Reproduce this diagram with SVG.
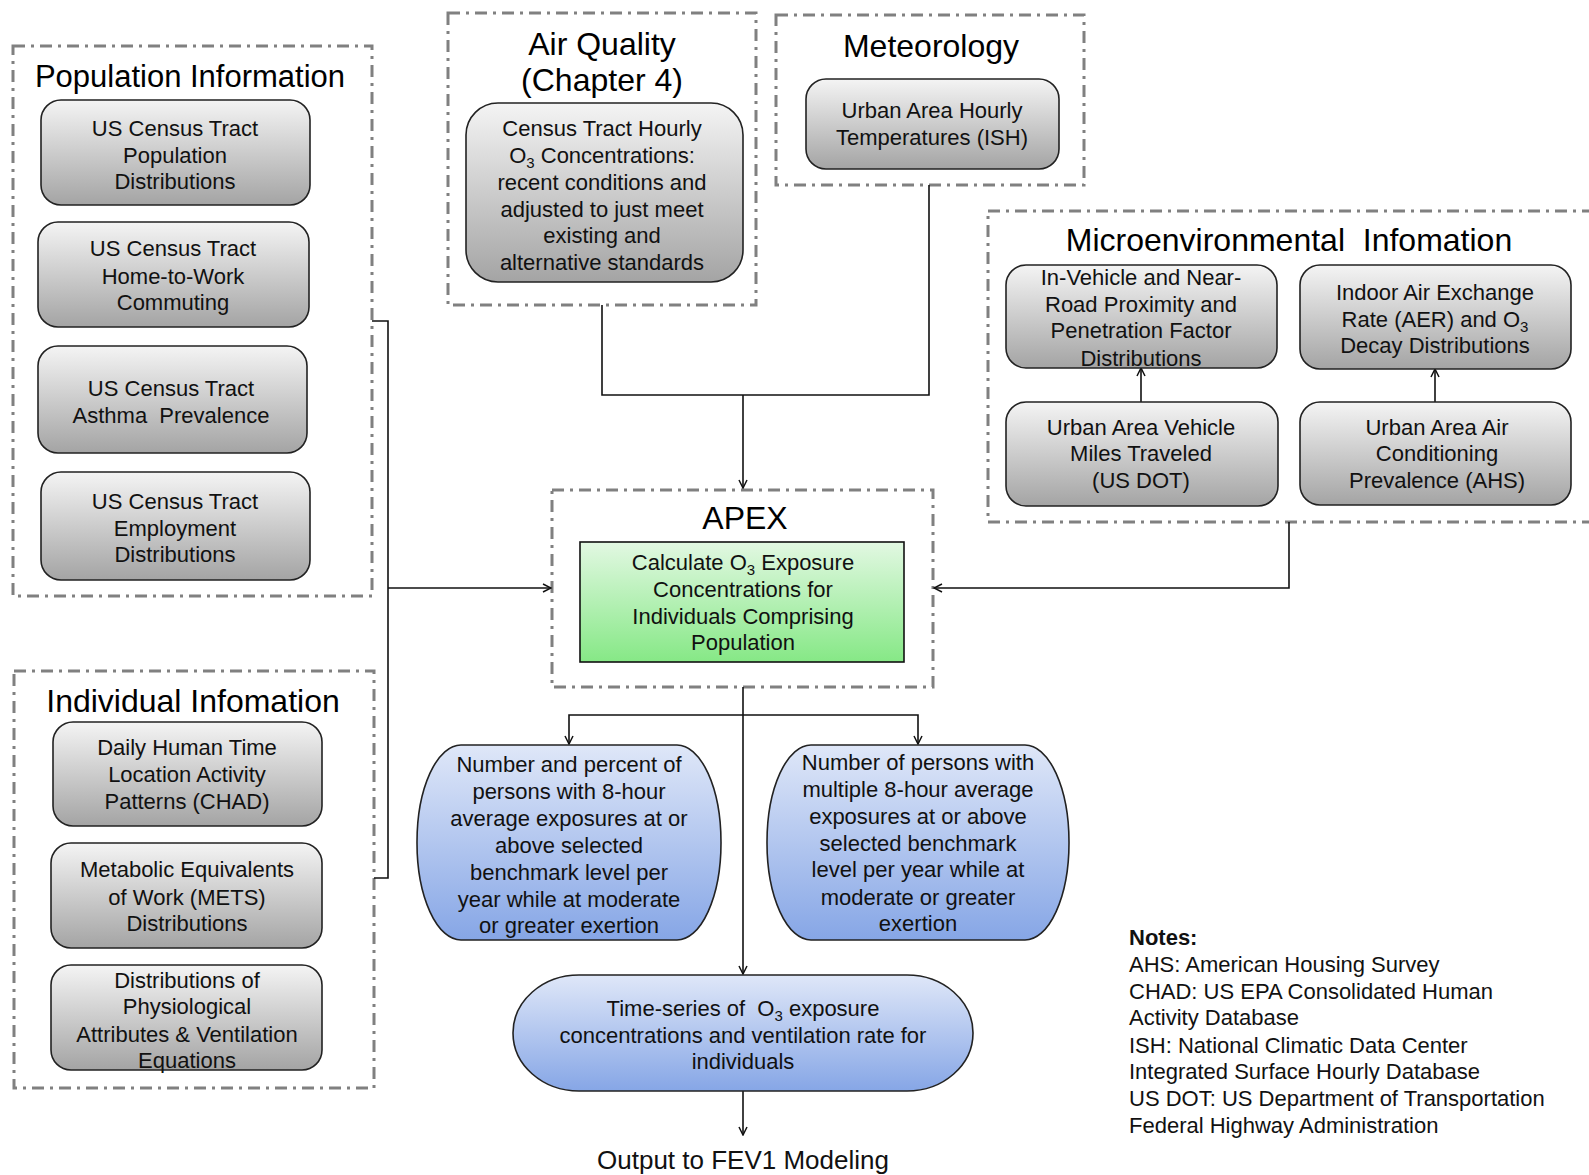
<svg xmlns="http://www.w3.org/2000/svg" width="1589" height="1175" viewBox="0 0 1589 1175">
  <defs>
    <linearGradient id="gGrey" x1="0" y1="0" x2="0" y2="1">
      <stop offset="0" stop-color="#f4f4f4"/>
      <stop offset="1" stop-color="#a4a4a4"/>
    </linearGradient>
    <linearGradient id="gGreen" x1="0" y1="0" x2="0" y2="1">
      <stop offset="0" stop-color="#e2f8e2"/>
      <stop offset="1" stop-color="#86e886"/>
    </linearGradient>
    <linearGradient id="gBlue" x1="0" y1="0" x2="0" y2="1">
      <stop offset="0" stop-color="#dfe7f8"/>
      <stop offset="1" stop-color="#86a6e6"/>
    </linearGradient>
    <marker id="arr" viewBox="0 0 10 10" refX="9" refY="5" markerWidth="10" markerHeight="10" markerUnits="userSpaceOnUse" orient="auto">
      <polyline points="1,1 9,5 1,9" fill="none" stroke="#111" stroke-width="1.5"/>
    </marker>
  </defs>
  <style>
    .grp { fill: none; stroke: #808080; stroke-width: 3; stroke-dasharray: 12 6 3 6; }
    .box { fill: url(#gGrey); stroke: #222; stroke-width: 1.6; }
    .green { fill: url(#gGreen); stroke: #111; stroke-width: 1.6; }
    .blue { fill: url(#gBlue); stroke: #222; stroke-width: 1.6; }
    .title { font-family: "Liberation Sans", Arial, sans-serif; font-size: 32px; fill: #000; text-anchor: middle; }
    .t { font-family: "Liberation Sans", Arial, sans-serif; font-size: 22px; fill: #111; text-anchor: middle; }
    .sub { font-size: 15px; }
    .notes { font-family: "Liberation Sans", Arial, sans-serif; font-size: 22px; fill: #111; }
    .wire { fill: none; stroke: #111; stroke-width: 1.6; }
  </style>
  <rect width="1589" height="1175" fill="#fff"/>

  <!-- group frames -->
  <g id="population-info">
    <rect class="grp" x="13" y="46" width="359" height="550"/>
    <text class="title" x="190" y="87" style="font-size:31px">Population Information</text>
  </g>
  <g id="individual-info">
    <rect class="grp" x="14" y="671" width="360" height="417"/>
    <text class="title" x="193" y="712">Individual Infomation</text>
  </g>
  <g id="air-quality">
    <rect class="grp" x="448" y="13" width="308" height="292"/>
    <text class="title" x="602" y="55">Air Quality</text>
    <text class="title" x="602" y="91">(Chapter 4)</text>
  </g>
  <g id="meteorology">
    <rect class="grp" x="776" y="15" width="308" height="170"/>
    <text class="title" x="931" y="57">Meteorology</text>
  </g>
  <g id="microenvironmental-info">
    <rect class="grp" x="988" y="211" width="620" height="311"/>
    <text class="title" x="1289" y="251" xml:space="preserve">Microenvironmental  Infomation</text>
  </g>
  <g id="apex">
    <rect class="grp" x="552" y="490" width="381" height="197"/>
    <text class="title" x="745" y="529">APEX</text>
  </g>

  <!-- connectors -->
  <g id="connectors">
    <path class="wire" d="M602 305 V395 H929 V185"/>
    <path class="wire" d="M743 395 V488" marker-end="url(#arr)"/>
    <path class="wire" d="M372 321 H388 V878 H374"/>
    <path class="wire" d="M388 588 H551" marker-end="url(#arr)"/>
    <path class="wire" d="M1289 522 V588 H934" marker-end="url(#arr)"/>
    <path class="wire" d="M1141 402 V368" marker-end="url(#arr)"/>
    <path class="wire" d="M1435 402 V369" marker-end="url(#arr)"/>
    <path class="wire" d="M743 687 V974" marker-end="url(#arr)"/>
    <path class="wire" d="M743 715 H569 V744" marker-end="url(#arr)"/>
    <path class="wire" d="M743 715 H918 V744" marker-end="url(#arr)"/>
    <path class="wire" d="M743 1091 V1135" marker-end="url(#arr)"/>
  </g>

  <!-- population nodes -->
  <g id="pop-distributions">
    <rect class="box" x="41" y="100" width="269" height="105" rx="20"/>
    <text class="t" x="175" y="136">US Census Tract</text>
    <text class="t" x="175" y="163">Population</text>
    <text class="t" x="175" y="189">Distributions</text>
  </g>
  <g id="commuting">
    <rect class="box" x="38" y="222" width="271" height="105" rx="20"/>
    <text class="t" x="173" y="256">US Census Tract</text>
    <text class="t" x="173" y="284">Home-to-Work</text>
    <text class="t" x="173" y="310">Commuting</text>
  </g>
  <g id="asthma">
    <rect class="box" x="38" y="346" width="269" height="107" rx="20"/>
    <text class="t" x="171" y="396">US Census Tract</text>
    <text class="t" x="171" y="423" xml:space="preserve">Asthma  Prevalence</text>
  </g>
  <g id="employment">
    <rect class="box" x="41" y="472" width="269" height="108" rx="20"/>
    <text class="t" x="175" y="509">US Census Tract</text>
    <text class="t" x="175" y="536">Employment</text>
    <text class="t" x="175" y="562">Distributions</text>
  </g>

  <!-- individual nodes -->
  <g id="chad">
    <rect class="box" x="53" y="722" width="269" height="104" rx="20"/>
    <text class="t" x="187" y="755">Daily Human Time</text>
    <text class="t" x="187" y="782">Location Activity</text>
    <text class="t" x="187" y="809">Patterns (CHAD)</text>
  </g>
  <g id="mets">
    <rect class="box" x="51" y="843" width="271" height="105" rx="20"/>
    <text class="t" x="187" y="877">Metabolic Equivalents</text>
    <text class="t" x="187" y="905">of Work (METS)</text>
    <text class="t" x="187" y="931">Distributions</text>
  </g>
  <g id="physiology">
    <rect class="box" x="51" y="965" width="271" height="105" rx="20"/>
    <text class="t" x="187" y="988">Distributions of</text>
    <text class="t" x="187" y="1014">Physiological</text>
    <text class="t" x="187" y="1042">Attributes &amp; Ventilation</text>
    <text class="t" x="187" y="1068">Equations</text>
  </g>

  <!-- air quality node -->
  <g id="o3-concentrations">
    <rect class="box" x="466" y="103" width="277" height="179" rx="32"/>
    <text class="t" x="602" y="136">Census Tract Hourly</text>
    <text class="t" x="602" y="163">O<tspan class="sub" dy="5">3</tspan><tspan dy="-5"> Concentrations:</tspan></text>
    <text class="t" x="602" y="190">recent conditions and</text>
    <text class="t" x="602" y="217">adjusted to just meet</text>
    <text class="t" x="602" y="243">existing and</text>
    <text class="t" x="602" y="270">alternative standards</text>
  </g>

  <!-- meteorology node -->
  <g id="temperatures">
    <rect class="box" x="806" y="79" width="253" height="90" rx="20"/>
    <text class="t" x="932" y="118">Urban Area Hourly</text>
    <text class="t" x="932" y="145">Temperatures (ISH)</text>
  </g>

  <!-- microenvironmental nodes -->
  <g id="in-vehicle">
    <rect class="box" x="1006" y="265" width="271" height="103" rx="20"/>
    <text class="t" x="1141" y="285">In-Vehicle and Near-</text>
    <text class="t" x="1141" y="312">Road Proximity and</text>
    <text class="t" x="1141" y="338">Penetration Factor</text>
    <text class="t" x="1141" y="366">Distributions</text>
  </g>
  <g id="indoor-aer">
    <rect class="box" x="1300" y="265" width="271" height="104" rx="20"/>
    <text class="t" x="1435" y="300">Indoor Air Exchange</text>
    <text class="t" x="1435" y="327">Rate (AER) and O<tspan class="sub" dy="5">3</tspan></text>
    <text class="t" x="1435" y="353">Decay Distributions</text>
  </g>
  <g id="vmt">
    <rect class="box" x="1006" y="402" width="272" height="104" rx="20"/>
    <text class="t" x="1141" y="435">Urban Area Vehicle</text>
    <text class="t" x="1141" y="461">Miles Traveled</text>
    <text class="t" x="1141" y="488">(US DOT)</text>
  </g>
  <g id="air-conditioning">
    <rect class="box" x="1300" y="402" width="271" height="103" rx="20"/>
    <text class="t" x="1437" y="435">Urban Area Air</text>
    <text class="t" x="1437" y="461">Conditioning</text>
    <text class="t" x="1437" y="488">Prevalence (AHS)</text>
  </g>

  <!-- APEX calculation -->
  <g id="calculate-exposure">
    <rect class="green" x="580" y="542" width="324" height="120"/>
    <text class="t" x="743" y="570">Calculate O<tspan class="sub" dy="5">3</tspan><tspan dy="-5"> Exposure</tspan></text>
    <text class="t" x="743" y="597">Concentrations for</text>
    <text class="t" x="743" y="624">Individuals Comprising</text>
    <text class="t" x="743" y="650">Population</text>
  </g>

  <!-- outputs -->
  <g id="percent-exposed">
    <rect class="blue" x="417" y="745" width="304" height="195" rx="44" ry="97"/>
    <text class="t" x="569" y="772">Number and percent of</text>
    <text class="t" x="569" y="799">persons with 8-hour</text>
    <text class="t" x="569" y="826">average exposures at or</text>
    <text class="t" x="569" y="853">above selected</text>
    <text class="t" x="569" y="880">benchmark level per</text>
    <text class="t" x="569" y="907">year while at moderate</text>
    <text class="t" x="569" y="933">or greater exertion</text>
  </g>
  <g id="multiple-exposures">
    <rect class="blue" x="767" y="745" width="302" height="195" rx="44" ry="97"/>
    <text class="t" x="918" y="770">Number of persons with</text>
    <text class="t" x="918" y="797">multiple 8-hour average</text>
    <text class="t" x="918" y="824">exposures at or above</text>
    <text class="t" x="918" y="851">selected benchmark</text>
    <text class="t" x="918" y="877">level per year while at</text>
    <text class="t" x="918" y="905">moderate or greater</text>
    <text class="t" x="918" y="931">exertion</text>
  </g>
  <g id="time-series">
    <rect class="blue" x="513" y="975" width="460" height="116" rx="66" ry="58"/>
    <text class="t" x="743" y="1016" xml:space="preserve">Time-series of  O<tspan class="sub" dy="5">3</tspan><tspan dy="-5"> exposure</tspan></text>
    <text class="t" x="743" y="1043">concentrations and ventilation rate for</text>
    <text class="t" x="743" y="1069">individuals</text>
  </g>
  <g id="fev1-output">
    <text class="t" x="743" y="1169" style="font-size:26px">Output to FEV1 Modeling</text>
  </g>

  <!-- abbreviations -->
  <g id="notes">
    <text class="notes" x="1129" y="945" font-weight="bold">Notes:</text>
    <text class="notes" x="1129" y="972">AHS: American Housing Survey</text>
    <text class="notes" x="1129" y="999">CHAD: US EPA Consolidated Human</text>
    <text class="notes" x="1129" y="1025">Activity Database</text>
    <text class="notes" x="1129" y="1053">ISH: National Climatic Data Center</text>
    <text class="notes" x="1129" y="1079">Integrated Surface Hourly Database</text>
    <text class="notes" x="1129" y="1106">US DOT: US Department of Transportation</text>
    <text class="notes" x="1129" y="1133">Federal Highway Administration</text>
  </g>
</svg>
